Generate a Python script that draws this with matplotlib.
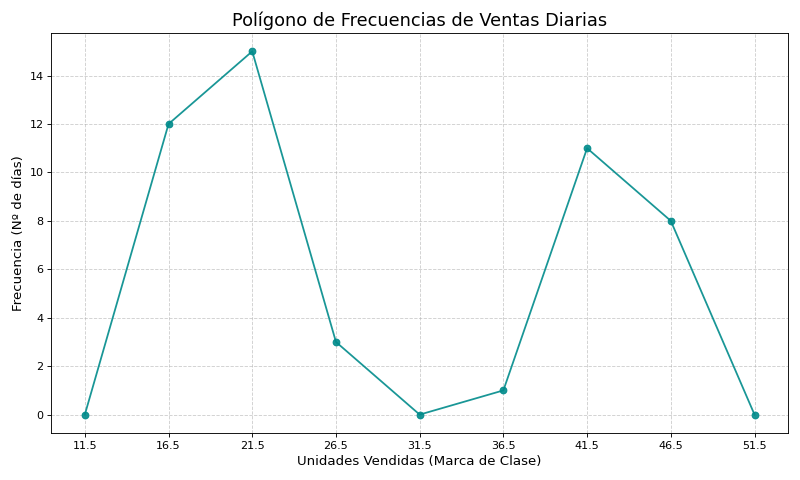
import matplotlib
matplotlib.use("Agg")
import matplotlib.pyplot as plt

marcas = [11.5, 16.5, 21.5, 26.5, 31.5, 36.5, 41.5, 46.5, 51.5]
frecuencias = [0, 12, 15, 3, 0, 1, 11, 8, 0]

fig, ax = plt.subplots(figsize=(10, 6), dpi=80)
ax.plot(marcas, frecuencias, color='darkcyan', alpha=0.9, linewidth=1.6,
        marker='o', markersize=6, markerfacecolor='darkcyan', markeredgecolor='darkcyan')
ax.set_title('Polígono de Frecuencias de Ventas Diarias', fontsize=16)
ax.set_xlabel('Unidades Vendidas (Marca de Clase)', fontsize=12)
ax.set_ylabel('Frecuencia (Nº de días)', fontsize=12)
ax.set_xticks(marcas)
ax.set_xticklabels([str(m) for m in marcas])
ax.grid(True, linestyle='--', alpha=0.6)
fig.tight_layout()
fig.savefig('out.png', dpi=80)
